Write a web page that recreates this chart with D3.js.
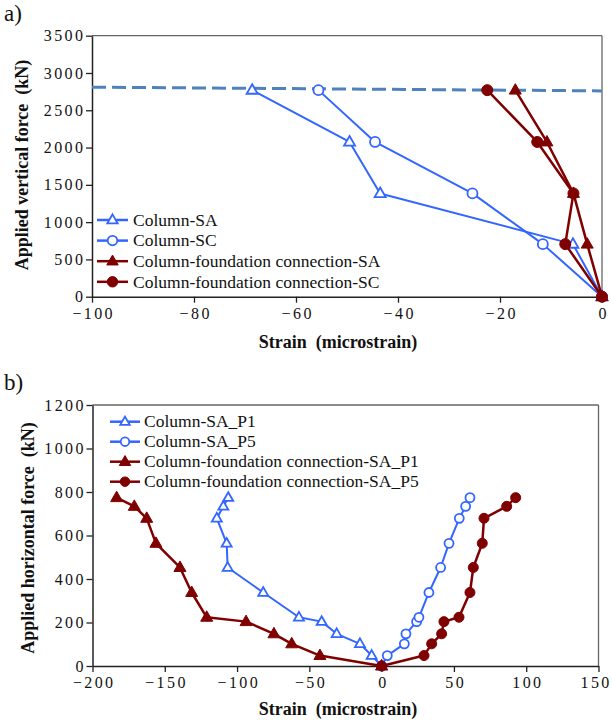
<!DOCTYPE html>
<html>
<head>
<meta charset="utf-8">
<script src="https://cdn.jsdelivr.net/npm/d3@7"></script>
<style>
  html, body { margin: 0; padding: 0; background: #fff; }
  svg { display: block; }
  text { font-family: "Liberation Serif", "Times New Roman", serif; fill: #111; white-space: pre; }
</style>
</head>
<body>
<svg id="chart" width="612" height="723"></svg>
<script>
// ---- Panel a: vertical load vs strain ----
const verticalLoads = [0, 705, 1385, 2075, 2770];
const columnSA = [0, -5.7, -43.5, -49.5, -68.6];
const columnSC = [0, -11.6, -25.4, -44.5, -55.6];
const connectionSA = [0, -2.9, -5.6, -10.8, -17.0];
const connectionSC = [0, -7.2, -5.6, -12.7, -22.5];
const capacityStrain = [-100, 0];
const capacityForce = [2810, 2760];
const xTicksA = [-100, -80, -60, -40, -20, 0];
const yTicksA = [0, 500, 1000, 1500, 2000, 2500, 3000, 3500];
const legendA = ["Column-SA", "Column-SC", "Column-foundation connection-SA", "Column-foundation connection-SC"];

// ---- Panel b: horizontal load vs strain ----
const horizontalLoads = [0, 48, 102, 148, 204, 224, 338, 453, 564, 679, 734, 774];
const columnP1 = [0, -6.9, -15.0, -31.1, -41.5, -57.2, -81.9, -106.5, -107.2, -114.0, -109.5, -106.1];
const columnP5 = [0, 3.9, 15.7, 16.8, 24.2, 25.8, 32.7, 40.8, 46.6, 53.7, 58.1, 61.1];
const connectionP1 = [0, -42.7, -62.2, -74.5, -93.8, -121.0, -131.4, -139.5, -156.1, -162.5, -171.1, -183.3];
const connectionP5 = [0, 29.3, 34.6, 41.5, 43.1, 53.5, 61.1, 63.4, 69.6, 70.8, 86.5, 92.7];
const xTicksB = [-200, -150, -100, -50, 0, 50, 100, 150];
const yTicksB = [0, 200, 400, 600, 800, 1000, 1200];
const legendB = ["Column-SA_P1", "Column-SA_P5", "Column-foundation connection-SA_P1", "Column-foundation connection-SA_P5"];

const BLUE = "#3366ff";
const RED = "#800000";
const DASH = "#4f81bd";
const LS = 2.4; // tick label letter spacing

const fmt = d => (d < 0 ? "\u2212" + Math.abs(d) : String(d));

const svg = d3.select("#chart");

function pts(xs, ys) { return xs.map((x, i) => [x, ys[i]]); }

function drawMarker(g, kind, x, y, color, size) {
  if (kind === "tri-open" || kind === "tri") {
    const s = size;
    const h = s * 0.87;
    const path = `M${x},${y - h * 0.62}L${x + s / 2},${y + h * 0.38}L${x - s / 2},${y + h * 0.38}Z`;
    g.append("path").attr("d", path)
      .attr("fill", kind === "tri" ? color : "#fff")
      .attr("stroke", color).attr("stroke-width", kind === "tri" ? 1 : 1.8)
      .attr("stroke-linejoin", "miter");
  } else {
    g.append("circle").attr("cx", x).attr("cy", y).attr("r", size / 2)
      .attr("fill", kind === "circ" ? color : "#fff")
      .attr("stroke", color).attr("stroke-width", kind === "circ" ? 1 : 1.8);
  }
}

function panel(cfg) {
  const g = svg.append("g");
  const x = d3.scaleLinear().domain(cfg.xDomain).range(cfg.xRange);
  const y = d3.scaleLinear().domain(cfg.yDomain).range(cfg.yRange);

  // frame: top and right edges
  g.append("line").attr("x1", cfg.xRange[0]).attr("x2", cfg.xRange[1])
    .attr("y1", cfg.yRange[1]).attr("y2", cfg.yRange[1]).attr("stroke", "#666").attr("stroke-width", 1.3);
  g.append("line").attr("x1", cfg.xRange[1]).attr("x2", cfg.xRange[1])
    .attr("y1", cfg.yRange[0]).attr("y2", cfg.yRange[1]).attr("stroke", "#666").attr("stroke-width", 1.3);

  // axes
  const xAxis = g.append("g").attr("transform", `translate(0,${cfg.yRange[0]})`)
    .call(d3.axisBottom(x).tickValues(cfg.xTicks).tickFormat(fmt).tickSize(6).tickSizeOuter(0).tickPadding(5));
  const yAxis = g.append("g").attr("transform", `translate(${cfg.xRange[0]},0)`)
    .call(d3.axisLeft(y).tickValues(cfg.yTicks).tickFormat(fmt).tickSize(6).tickSizeOuter(0).tickPadding(3));
  [xAxis, yAxis].forEach(a => {
    a.attr("font-family", null);
    a.select(".domain").attr("stroke", "#222").attr("stroke-width", 1.5);
    a.selectAll(".tick line").attr("stroke", "#222").attr("stroke-width", 1.3);
    a.selectAll(".tick text").attr("font-size", 16).attr("fill", "#111")
      .style("font-family", '"Liberation Serif", serif').style("letter-spacing", LS + "px");
  });
  // keep the rightmost x label inside the page edge
  xAxis.selectAll(".tick text").attr("dx", function (d) {
    const right = x(d) + this.getComputedTextLength() / 2;
    return right > 610 ? LS / 2 - (right - 610) : LS / 2;
  });
  yAxis.selectAll(".tick text").attr("dx", LS);

  // axis titles
  g.append("text").attr("x", cfg.xTitleX).attr("y", cfg.xTitleY).attr("text-anchor", "middle")
    .attr("font-size", 18).attr("font-weight", "bold").text("Strain  (microstrain)");
  g.append("text").attr("transform", `translate(${cfg.yTitleX},${cfg.yTitleY}) rotate(-90)`)
    .attr("text-anchor", "middle").attr("font-size", 18).attr("font-weight", "bold").text(cfg.yTitle);

  // panel tag
  g.append("text").attr("x", 4).attr("y", cfg.tagY).attr("font-size", 23).text(cfg.tag);

  // optional dashed reference
  if (cfg.dashed) {
    g.append("path").datum(cfg.dashed)
      .attr("d", d3.line().x(d => x(d[0])).y(d => y(d[1])))
      .attr("fill", "none").attr("stroke", DASH).attr("stroke-width", 3)
      .attr("stroke-dasharray", "14,6");
  }

  const line = d3.line().x(d => x(d[0])).y(d => y(d[1]));
  cfg.series.forEach(s => {
    g.append("path").datum(s.data).attr("d", line)
      .attr("fill", "none").attr("stroke", s.color).attr("stroke-width", s.width)
      .attr("stroke-linejoin", "round");
    const mg = g.append("g");
    s.data.forEach(d => drawMarker(mg, s.marker, x(d[0]), y(d[1]), s.color, s.size));
  });

  // legend
  const lg = g.append("g");
  cfg.series.forEach((s, i) => {
    const yy = cfg.legend.y0 + i * cfg.legend.dy;
    lg.append("line").attr("x1", cfg.legend.x0).attr("x2", cfg.legend.x1)
      .attr("y1", yy).attr("y2", yy).attr("stroke", s.color).attr("stroke-width", 2.5);
    drawMarker(lg, s.marker, (cfg.legend.x0 + cfg.legend.x1) / 2, yy, s.color, s.size * 0.95);
    lg.append("text").attr("x", cfg.legend.tx).attr("y", yy).attr("dy", "0.33em")
      .attr("font-size", 17.5).text(s.label);
  });
}

panel({
  xDomain: [-100, 0], xRange: [92, 602],
  yDomain: [0, 3500], yRange: [296.7, 35.7],
  xTicks: xTicksA, yTicks: yTicksA,
  xTitleX: 338, xTitleY: 348,
  yTitle: "Applied vertical force  (kN)", yTitleX: 28, yTitleY: 165,
  tag: "a)", tagY: 21,
  dashed: pts(capacityStrain, capacityForce),
  series: [
    { label: legendA[0], data: pts(columnSA, verticalLoads), color: BLUE, width: 2, marker: "tri-open", size: 11 },
    { label: legendA[1], data: pts(columnSC, verticalLoads), color: BLUE, width: 2, marker: "circ-open", size: 10 },
    { label: legendA[2], data: pts(connectionSA, verticalLoads), color: RED, width: 2.5, marker: "tri", size: 12 },
    { label: legendA[3], data: pts(connectionSC, verticalLoads), color: RED, width: 2.5, marker: "circ", size: 11 }
  ],
  legend: { x0: 97, x1: 128, tx: 133, y0: 220, dy: 20.6 }
});

panel({
  xDomain: [-200, 150], xRange: [92.5, 598.5],
  yDomain: [0, 1200], yRange: [666, 405],
  xTicks: xTicksB, yTicks: yTicksB,
  xTitleX: 338, xTitleY: 715,
  yTitle: "Applied horizontal force  (kN)", yTitleX: 34, yTitleY: 538,
  tag: "b)", tagY: 390,
  series: [
    { label: legendB[0], data: pts(columnP1, horizontalLoads), color: BLUE, width: 2, marker: "tri-open", size: 10 },
    { label: legendB[1], data: pts(columnP5, horizontalLoads), color: BLUE, width: 2, marker: "circ-open", size: 9 },
    { label: legendB[2], data: pts(connectionP1, horizontalLoads), color: RED, width: 2.5, marker: "tri", size: 12 },
    { label: legendB[3], data: pts(connectionP5, horizontalLoads), color: RED, width: 2.5, marker: "circ", size: 10 }
  ],
  legend: { x0: 110, x1: 140, tx: 144, y0: 421.7, dy: 20 }
});
</script>
</body>
</html>
